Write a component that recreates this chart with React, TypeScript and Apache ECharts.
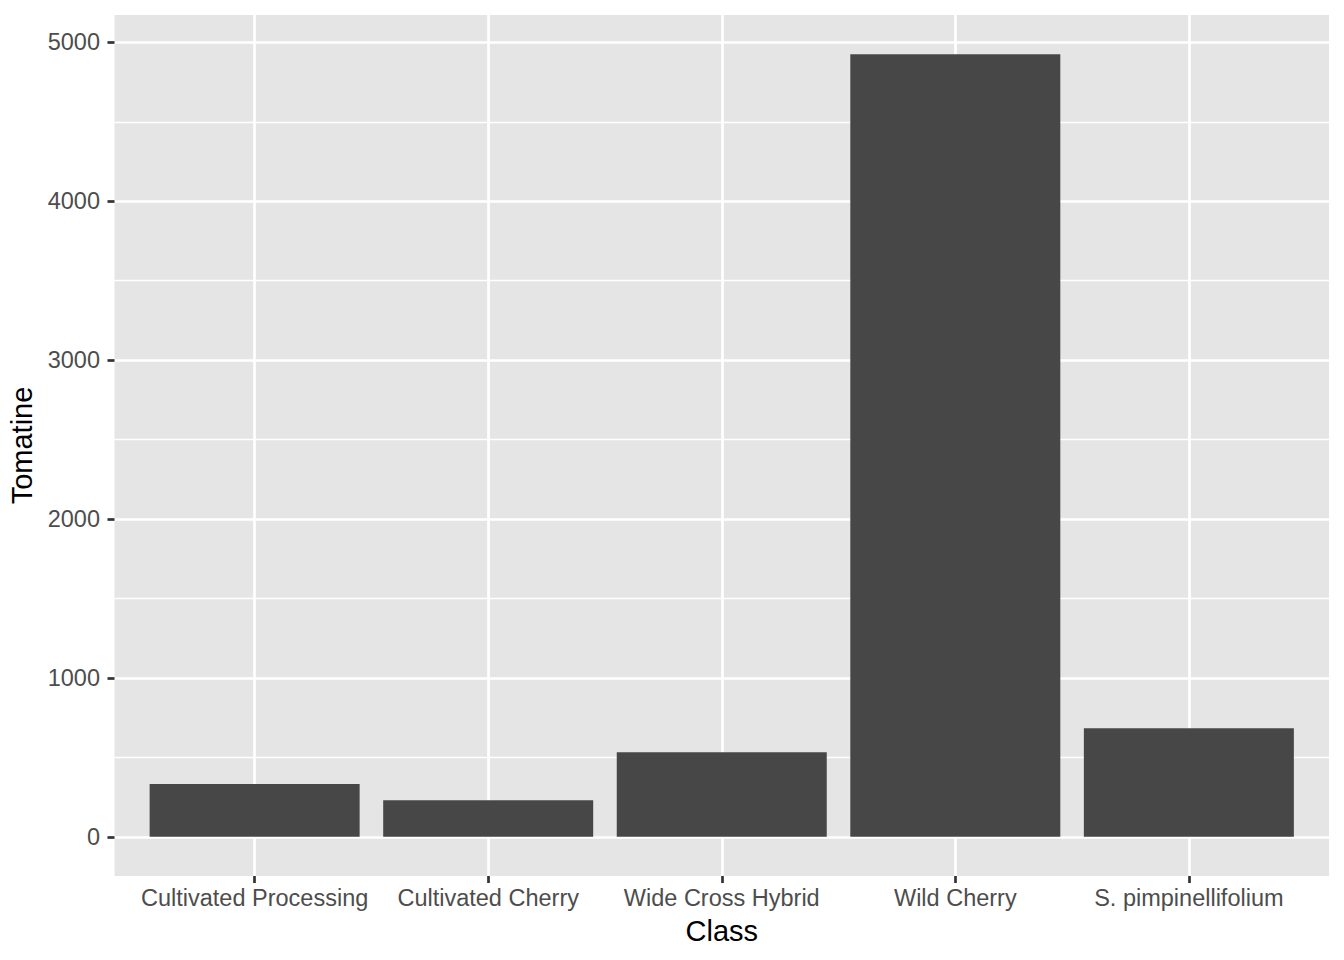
import React, { useEffect, useRef } from "react";
import * as echarts from "echarts";

const categories = [
  "Cultivated Processing",
  "Cultivated Cherry",
  "Wide Cross Hybrid",
  "Wild Cherry",
  "S. pimpinellifolium",
];
const tomatine = [332, 231, 533, 4926, 684];
const yTicks = [0, 1000, 2000, 3000, 4000, 5000];
const yMinorTicks = [500, 1500, 2500, 3500, 4500];
const xPositions = categories.map((_, i) => i + 1);

const FONT = "'Liberation Sans', Arial, Helvetica, sans-serif";

export default function App() {
  const ref = useRef<HTMLDivElement>(null);
  useEffect(() => {
    document.body.style.margin = "0";
    if (!ref.current) return;
    const chart = echarts.init(ref.current, undefined, { renderer: "svg" });
    const maxV = Math.max(...tomatine);
    const pad = maxV * 0.05;
    const yMin = -pad;
    const yMax = maxV + pad;
    chart.setOption({
      animation: false,
      backgroundColor: "#ffffff",
      textStyle: { fontFamily: FONT },
      grid: {
        left: 114.5,
        right: 15,
        top: 15,
        bottom: 84,
        show: true,
        backgroundColor: "#E5E5E5",
        borderWidth: 0,
        containLabel: false,
        outerBoundsMode: "none",
      },
      xAxis: {
        type: "value",
        min: 0.4,
        max: categories.length + 0.6,
        name: "Class",
        nameLocation: "middle",
        nameGap: 40,
        nameTextStyle: { color: "#000000", fontSize: 29, fontFamily: FONT },
        axisLine: { show: false, onZero: false },
        axisTick: {
          show: true,
          customValues: xPositions,
          length: 7,
          lineStyle: { color: "#333333", width: 2.7 },
        },
        axisLabel: {
          customValues: xPositions,
          margin: 10,
          color: "#4D4D4D",
          fontSize: 23.5,
          fontFamily: FONT,
          formatter: (v: number) => categories[Math.round(v) - 1] ?? "",
        },
        splitLine: { show: true, lineStyle: { color: "#ffffff", width: 2.7 } },
        minorSplitLine: { show: false },
      },
      yAxis: [
        {
          type: "value",
          min: yMin,
          max: yMax,
          name: "Tomatine",
          nameLocation: "middle",
          nameGap: 76,
          nameTextStyle: { color: "#000000", fontSize: 29, fontFamily: FONT },
          axisLine: { show: false, onZero: false },
          axisTick: {
            show: true,
            customValues: yTicks,
            length: 7,
            lineStyle: { color: "#333333", width: 2.7 },
          },
          axisLabel: {
            customValues: yTicks,
            margin: 14.5,
            color: "#4D4D4D",
            fontSize: 23.5,
            fontFamily: FONT,
            formatter: (v: number) => String(Math.round(v)),
          },
          splitLine: { show: true, lineStyle: { color: "#ffffff", width: 2.7 } },
        },
        {
          type: "value",
          min: yMin,
          max: yMax,
          position: "left",
          axisLine: { show: false, onZero: false },
          axisTick: { show: false, customValues: yMinorTicks },
          axisLabel: { show: false, customValues: yMinorTicks },
          splitLine: { show: true, lineStyle: { color: "#ffffff", width: 1.35 } },
        },
      ],
      series: [
        {
          type: "bar",
          xAxisIndex: 0,
          yAxisIndex: 0,
          barWidth: 210,
          itemStyle: { color: "#474747" },
          data: tomatine.map((v, i) => [xPositions[i], v]),
          z: 3,
        },
      ],
    });
    return () => chart.dispose();
  }, []);
  return <div ref={ref} style={{ width: 1344, height: 960 }} />;
}
